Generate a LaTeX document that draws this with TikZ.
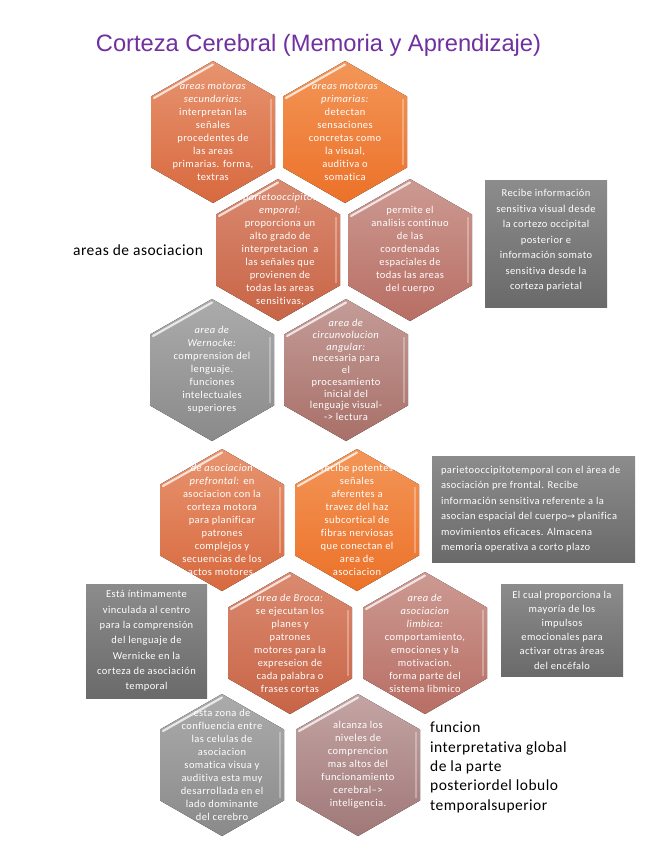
\documentclass[tikz,border=0pt]{standalone}
\usepackage{fontspec}
\setmainfont{Carlito}
\newfontfamily\titlefont{Liberation Sans}
\newfontfamily\spacedfont[LetterSpace=4,Ligatures=CommonOff]{Carlito}
\newfontfamily\bigfont[LetterSpace=3,Ligatures=CommonOff]{Carlito}
\newfontfamily\arrowfont{DejaVu Sans}
\usetikzlibrary{calc}
\definecolor{titlepurple}{HTML}{7030A0}
\definecolor{oAtop}{HTML}{E7946F}\definecolor{oAbot}{HTML}{D8693F}
\definecolor{oBtop}{HTML}{F39658}\definecolor{oBbot}{HTML}{EC7128}
\definecolor{oCtop}{HTML}{DA8A70}\definecolor{oCbot}{HTML}{C86446}
\definecolor{rAtop}{HTML}{CC9A92}\definecolor{rAbot}{HTML}{B86E64}
\definecolor{gAtop}{HTML}{ABABAB}\definecolor{gAbot}{HTML}{8A8A8A}
\definecolor{rBtop}{HTML}{C49C98}\definecolor{rBbot}{HTML}{A87068}
\definecolor{rCtop}{HTML}{C4A4A4}\definecolor{rCbot}{HTML}{A07878}
\definecolor{boxtop}{HTML}{8C8C8C}\definecolor{boxbot}{HTML}{6A6A6A}
\newcommand\hexcell[4]{%
  \coordinate (#1) at (#2,#3);
  \fill[top color=#4top, bottom color=#4bot] (#1) ++(0,71) -- ++(-62,-35.5) -- ++(0,-71) -- ++(62,-35.5) -- ++(62,35.5) -- ++(0,71) -- cycle;
  \draw[bevel] ($(#1)+(-59,34)$) -- ($(#1)+(0,67.5)$);
  \draw[stripe] ($(#1)+(58,33)$) -- ($(#1)+(58,-33)$);
}
\begin{document}
\begin{tikzpicture}[x=1pt,y=1pt,
  bevel/.style={white, line width=2.2pt, opacity=0.75, line cap=round},
  stripe/.style={white, line width=2pt, opacity=0.3},
  hextext/.style={align=center, text=white, inner sep=0pt, font=\spacedfont\fontsize{10.5}{13}\selectfont},
  graybox/.style={top color=boxtop, bottom color=boxbot, inner sep=0pt, draw=none},
  boxtext/.style={align=center, text=white, inner sep=0pt, font=\spacedfont\fontsize{10.5}{15.5}\selectfont},
  bigtext/.style={text=black, inner sep=0pt, font=\bigfont\fontsize{15.5}{19.3}\selectfont}]
\useasboundingbox (0,0) rectangle (655,-848);
\fill[white] (0,0) rectangle (655,-848);

\node[font=\titlefont\fontsize{23.7}{28}\selectfont, text=titlepurple, inner sep=0pt] (title) at (318.5,-45) {Corteza Cerebral (Memoria y Aprendizaje)};

\hexcell{h1}{213}{-132}{oA}
\hexcell{h2}{345}{-132}{oB}
\hexcell{h3}{278}{-250}{oC}
\hexcell{h4}{410}{-250}{rA}
\hexcell{h5}{212}{-370}{gA}
\hexcell{h6}{346}{-370}{rB}
\hexcell{h7}{222}{-520}{oA}
\hexcell{h8}{357}{-520}{oB}
\hexcell{h9}{290}{-643}{oC}
\hexcell{h10}{425}{-643}{rA}
\hexcell{h11}{222}{-765}{gA}
\hexcell{h12}{358}{-765}{rC}

\node[hextext] (t1) at (h1) {\textit{areas motoras}\\\textit{secundarias:}\\interpretan las\\señales\\procedentes de\\las areas\\primarias. forma,\\textras};
\node[hextext] (t2) at (h2) {\textit{areas motoras}\\\textit{primarias:}\\detectan\\sensaciones\\concretas como\\la visual,\\auditiva o\\somatica};
\node[hextext] (t3) at ($(h3)+(2,0)$) {\textit{parietooccipitot}\\\textit{emporal:}\\proporciona un\\alto grado de\\interpretacion \ a\\las señales que\\provienen de\\todas las areas\\sensitivas,};
\node[hextext] (t4) at (h4) {permite el\\analisis continuo\\de las\\coordenadas\\espaciales de\\todas las areas\\del cuerpo};
\node[hextext] (t5) at (h5) {\textit{area de}\\\textit{Wernocke:}\\comprension del\\lenguaje.\\funciones\\intelectuales\\superiores};
\node[hextext, font=\spacedfont\fontsize{10.5}{11.7}\selectfont] (t6) at (h6) {\textit{area de}\\\textit{circunvolucion}\\\textit{angular:}\\necesaria para\\el\\procesamiento\\inicial del\\lenguaje visual-\\-> lectura};
\node[hextext] (t7) at (h7) {\textit{de asociacion}\\\textit{prefrontal:} en\\asociacion con la\\corteza motora\\para planificar\\patrones\\complejos y\\secuencias de los\\actos motores.};
\node[hextext] (t8) at (h8) {recibe potentes\\señales\\aferentes a\\travez del haz\\subcortical de\\fibras nerviosas\\que conectan el\\area de\\asociacion};
\node[hextext] (t9) at (h9) {\textit{area de Broca:}\\se ejecutan los\\planes y\\patrones\\motores para la\\expreseion de\\cada palabra o\\frases cortas};
\node[hextext] (t10) at (h10) {\textit{area de}\\\textit{asociacion}\\\textit{limbica:}\\comportamiento,\\emociones y la\\motivacion.\\forma parte del\\sistema libmico};
\node[hextext] (t11) at (h11) {esta zona de\\confluencia entre\\las celulas de\\asociacion\\somatica visua y\\auditiva esta muy\\desarrollada en el\\lado dominante\\del cerebro};
\node[hextext] (t12) at (h12) {alcanza los\\niveles de\\comprencion\\mas altos del\\funcionamiento\\cerebral–>\\inteligencia.};

\node[graybox, minimum width=122pt, minimum height=127pt] (bA) at (546,-243.5) {};
\node[boxtext] (tA) at ($(bA)+(0,3)$) {Recibe información\\sensitiva visual desde\\la cortezo occipital\\posterior e\\información somato\\sensitiva desde la\\corteza parietal};

\node[graybox, minimum width=203pt, minimum height=106pt] (bB) at (533.5,-509) {};
\node[boxtext, align=left, anchor=west] (tB) at ($(bB.west)+(9,0)$) {parietooccipitotemporal con el área de\\asociación pre frontal. Recibe\\información sensitiva referente a la\\asocian espacial del cuerpo{\arrowfont\fontsize{9.5}{10}\selectfont→} planifica\\movimientos eficaces. Almacena\\memoria operativa a corto plazo};

\node[graybox, minimum width=121pt, minimum height=114pt] (bC) at (146.5,-641) {};
\node[boxtext, font=\spacedfont\fontsize{10.5}{15.3}\selectfont] (tC) at (bC) {Está íntimamente\\vinculada al centro\\para la comprensión\\del lenguaje de\\Wernicke en la\\corteza de asociación\\temporal};

\node[graybox, minimum width=122pt, minimum height=92pt] (bD) at (562,-630) {};
\node[boxtext, font=\spacedfont\fontsize{10.5}{14.2}\selectfont] (tD) at (bD) {El cual proporciona la\\mayoría de los\\impulsos\\emocionales para\\activar otras áreas\\del encéfalo};

\node[bigtext, anchor=west] (lab1) at (73,-250) {areas de asociacion};
\node[bigtext, align=left, anchor=north west] (lab2) at (430,-722) {funcion\\interpretativa global\\de la parte\\posteriordel lobulo\\temporalsuperior};
\end{tikzpicture}
\end{document}
